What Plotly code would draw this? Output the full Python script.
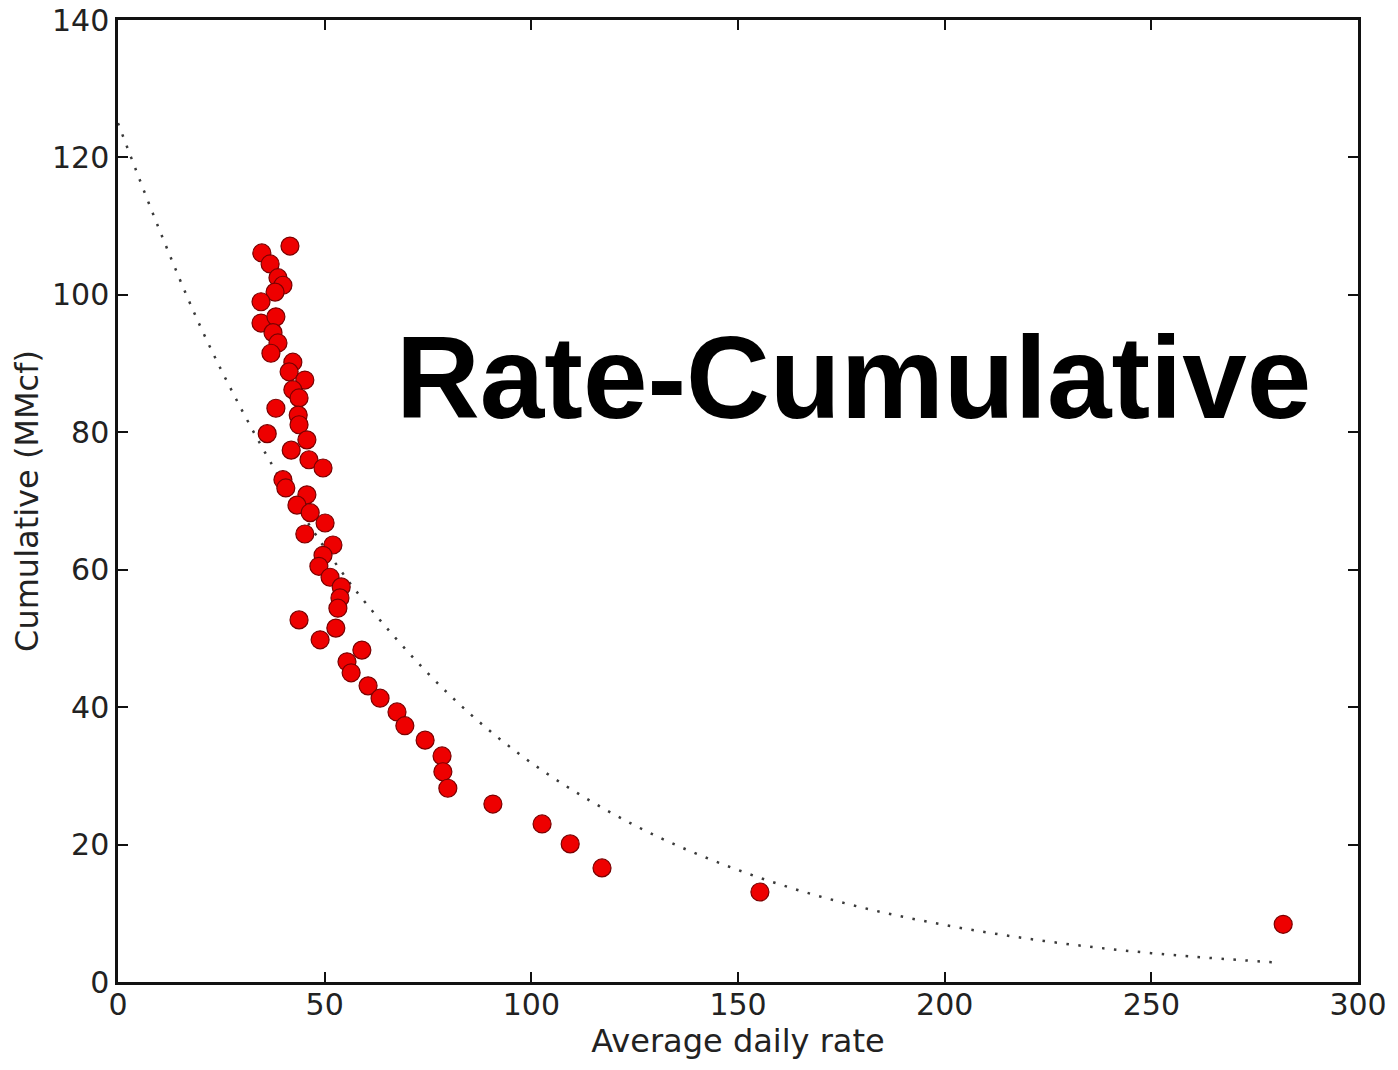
import plotly.graph_objects as go

# Observed data points (average daily rate, cumulative MMcf)
rate = [34.8, 41.6, 36.8, 38.7, 39.9, 38.0, 34.6, 34.6, 38.2, 37.5, 38.7, 37.0,
        42.3, 41.4, 45.2, 42.3, 43.8, 38.2, 43.6, 43.8, 36.1, 45.7, 41.9, 46.2,
        49.6, 39.9, 40.6, 45.7, 43.3, 46.5, 50.1, 45.2, 52.0, 49.6, 48.6, 51.3,
        54.0, 53.7, 53.2, 43.8, 52.7, 48.9, 59.0, 55.4, 56.4, 60.5, 63.4, 67.5,
        69.4, 74.3, 78.4, 78.6, 79.8, 90.7, 102.6, 109.4, 117.1, 155.3, 281.9]
cumulative = [106.1, 107.1, 104.5, 102.5, 101.4, 100.4, 99.0, 95.9, 96.8, 94.5, 93.0, 91.5,
              90.2, 88.8, 87.6, 86.2, 85.0, 83.5, 82.5, 81.1, 79.8, 78.9, 77.4, 76.0,
              74.8, 73.1, 71.9, 70.9, 69.4, 68.3, 66.8, 65.2, 63.6, 62.1, 60.5, 58.9,
              57.5, 55.9, 54.4, 52.7, 51.5, 49.8, 48.3, 46.6, 45.0, 43.1, 41.3, 39.3,
              37.3, 35.2, 32.9, 30.6, 28.2, 25.9, 23.0, 20.1, 16.6, 13.1, 8.4]

# Fitted curve
fit_rate = [0, 10, 20, 30, 40, 50, 60, 80, 100, 125, 150, 175, 200, 225, 250, 281]
fit_cum = [125, 109.5, 95.3, 83.2, 72.5, 63.2, 55.1, 41.9, 31.9, 22.8, 16.3, 11.6, 8.3, 5.9, 4.2, 2.8]

x_ticks = [0, 50, 100, 150, 200, 250, 300]
y_ticks = [0, 20, 40, 60, 80, 100, 120, 140]

fig = go.Figure()
fig.add_trace(go.Scatter(
    x=fit_rate, y=fit_cum, mode="lines", line_shape="spline",
    line=dict(color="#3a3a3a", width=2.5, dash="2.5px,9.5px"),
    showlegend=False, hoverinfo="skip"))
fig.add_trace(go.Scatter(
    x=rate, y=cumulative, mode="markers",
    marker=dict(size=18, color="#ee0000", line=dict(color="#7a0000", width=1.2)),
    showlegend=False))

axis_common = dict(
    showgrid=False, zeroline=False, showline=True, linecolor="#111111", linewidth=2.5,
    mirror="ticks", ticks="inside", ticklen=10, tickwidth=1.5, tickcolor="#111111",
    tickfont=dict(family="DejaVu Sans", size=30, color="#222222"),
    automargin=False,
)

fig.update_layout(
    width=1398, height=1070,
    margin=dict(l=118, r=40, t=20, b=88),
    paper_bgcolor="white", plot_bgcolor="white",
    xaxis=dict(range=[0, 300], tickvals=x_ticks, ticktext=[str(v) for v in x_ticks],
               ticklabelstandoff=-6,
               title=dict(text="Average daily rate", standoff=0,
                          font=dict(family="DejaVu Sans", size=32, color="#222222")),
               **axis_common),
    yaxis=dict(range=[0, 140], tickvals=y_ticks, ticktext=[str(v) for v in y_ticks],
               title=dict(text="Cumulative (MMcf)", standoff=4,
                          font=dict(family="DejaVu Sans", size=32, color="#222222")),
               **axis_common),
    annotations=[dict(
        text="<b>Rate-Cumulative</b>", xref="paper", yref="paper",
        x=0.593, y=0.628, xanchor="center", yanchor="middle", showarrow=False,
        font=dict(family="Liberation Sans, Arial", size=116, color="black"))],
)

fig.write_html("out.html")
